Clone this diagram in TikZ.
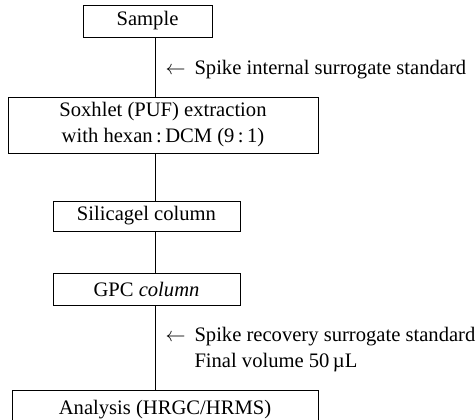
\documentclass[tikz,border=0pt]{standalone}
\usepackage{fontspec}
\setmainfont{Liberation Serif}
\usepackage{tikz}
\usetikzlibrary{calc}

\tikzset{
  stagebox/.style={draw, line width=0.5pt, inner sep=0pt, align=center},
  spikenote/.style={anchor=west, inner sep=0pt, align=left},
}
\newcommand{\spikearrow}{$\leftarrow$\hspace{4.5pt}}

\begin{document}
\begin{tikzpicture}[x=0.5pt,y=-0.5pt,line width=0.5pt,font=\fontsize{10.3}{13}\selectfont]
	  %frame: size of the page, the last box runs out at the bottom
	  \clip (0,0) rectangle (476,419);
	  \coordinate (spine) at (155,0);

	  \node[stagebox,minimum width=64.5pt,minimum height=16pt] (sample) at (147.5,21) {Sample};
	  \node[stagebox,minimum width=155pt,minimum height=28pt] (soxhlet) at (163,125)
	       {Soxhlet (PUF) extraction\\with hexan\,:\,DCM (9\,:\,1)};
	  \node[stagebox,minimum width=93.5pt,minimum height=15pt] (silica) at (146.5,216) {Silicagel column};
	  \node[stagebox,minimum width=93.5pt,minimum height=16pt] (gpc) at (146.5,289) {GPC \textit{column}};
	  \node[stagebox,anchor=north,minimum width=153pt,minimum height=22pt,text depth=5pt] (analysis) at (165,390)
	       {Analysis (HRGC/HRMS)};

	  %spine
	  \draw (sample.south -| spine) -- (soxhlet.north -| spine);
	  \draw (soxhlet.south -| spine) -- (silica.north -| spine);
	  \draw (silica.south -| spine) -- (gpc.north -| spine);
	  \draw (gpc.south -| spine) -- (analysis.north -| spine);

	  %spikes
	  \node[spikenote] (internal) at (165,70) {\spikearrow Spike internal surrogate standard};
	  \node[spikenote,anchor=north west] (recovery) at (165,327)
	       {\spikearrow Spike recovery surrogate standard\\
	        \hphantom{\spikearrow}Final volume 50\,µL};
\end{tikzpicture}
\end{document}
